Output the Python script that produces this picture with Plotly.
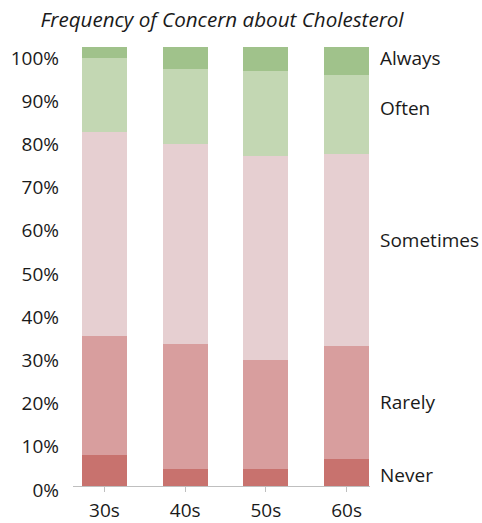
import plotly.graph_objects as go

categories = ["30s", "40s", "50s", "60s"]
series_names = ["Never", "Rarely", "Sometimes", "Often", "Always"]
never = [7.1, 3.8, 3.8, 6.2]
rarely = [27.1, 28.5, 24.9, 25.7]
sometimes = [46.5, 45.6, 46.5, 43.8]
often = [16.7, 17.2, 19.4, 18.0]
always = [2.6, 4.9, 5.4, 6.3]
values = [never, rarely, sometimes, often, always]
colors = ["#C8726E", "#D89E9E", "#E6CFD1", "#C3D7B3", "#A0C28B"]
ytick_vals = [0, 10, 20, 30, 40, 50, 60, 70, 80, 90, 100]
ytick_text = ["0%", "10%", "20%", "30%", "40%", "50%", "60%", "70%", "80%", "90%", "100%"]
label_y = [2.5, 19.1, 56.0, 86.1, 97.5]

FONT = "Open Sans"
W, H = 482, 523
top, bottom_plot, bottom_paper = 40, 486, 523
left, right = 73, 370

fig = go.Figure()
for name, vals, col in zip(series_names, values, colors):
    fig.add_trace(go.Bar(x=list(range(len(categories))), y=vals, name=name,
                         marker=dict(color=col, line=dict(width=0)),
                         width=0.56, showlegend=False, hoverinfo="skip"))

# invisible trace to carry the label axis
fig.add_trace(go.Scatter(x=[0], y=[50], yaxis="y2", mode="markers",
                         marker=dict(opacity=0), showlegend=False, hoverinfo="skip"))

paper_h = bottom_paper - top
y1_bottom = (bottom_paper - bottom_plot) / paper_h
y1_span = (bottom_plot - top) / 4.39
y2_lo = (490 - bottom_paper) / 4.32
y2_hi = (490 - top) / 4.32

for name, yv in zip(series_names, label_y):
    fig.add_annotation(x=(378 - left) / (right - left), xref="paper", xanchor="left",
                       y=yv, yref="y", yanchor="middle", text=name, showarrow=False,
                       font=dict(family=FONT, size=19, color="#1a1a1a"))

fig.update_layout(
    width=W, height=H,
    margin=dict(l=left, r=W - right, t=top, b=H - bottom_paper, pad=0, autoexpand=False),
    paper_bgcolor="white", plot_bgcolor="rgba(0,0,0,0)",
    barmode="stack", bargap=0,
    title=dict(text="<i>Frequency of Concern about Cholesterol</i>",
               x=222 / W, xanchor="center", xref="container",
               y=1 - 20 / H, yanchor="middle",
               font=dict(family=FONT, size=20.6, color="#1a1a1a")),
    xaxis=dict(range=[-0.39, 3.29], tickvals=list(range(len(categories))),
               ticktext=categories, tickmode="array", tickson="boundaries",
               ticks="outside", ticklen=5, tickcolor="#BFBFBF",
               showline=True, linecolor="#BFBFBF", linewidth=1,
               showgrid=False, zeroline=False, anchor="y", automargin=False,
               ticklabelstandoff=2,
               tickfont=dict(family=FONT, size=19, color="#1a1a1a")),
    yaxis=dict(domain=[y1_bottom, 1], range=[0, y1_span], showticklabels=False,
               showgrid=False, zeroline=False, showline=False, ticks="",
               automargin=False),
    yaxis2=dict(domain=[0, 1], range=[y2_lo, y2_hi], anchor="free", position=0,
                tickvals=ytick_vals, ticktext=ytick_text, automargin=False,
                tickmode="array", showgrid=False, zeroline=False, showline=False,
                ticks="", ticklabelstandoff=14,
                tickfont=dict(family=FONT, size=19, color="#1a1a1a")),
)
fig.write_html("out.html")
